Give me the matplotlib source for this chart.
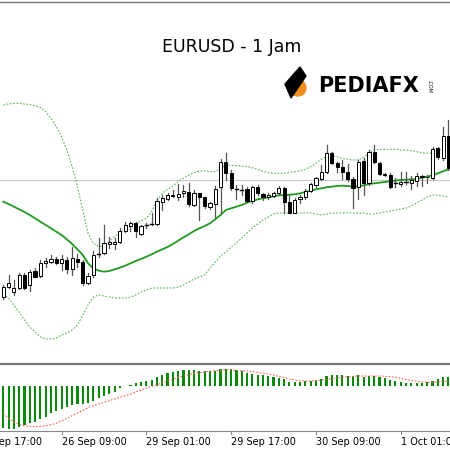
import matplotlib
matplotlib.use("Agg")
import matplotlib.pyplot as plt
from matplotlib.patches import Rectangle, Circle, Polygon
import matplotlib.transforms as mtransforms

# prices in screen-like units (larger = lower price), axis inverted
opens = [590,560,575,565,525,555,512,528,490,487,478,490,480,508,478,485,548,525,462,460,432,432,425,392,378,368,402,375,372,372,305,298,285,290,278,275,315,280,292,320,312,262,
         185,218,268,270,268,302,262,282,292,288,278,265,305,338,298,292,272,255,238,215,160,190,200,215,238,262,182,250,155,188,222,225,248,252,245,248,242,228,230,235,145,175,108]
closes = [560,550,565,525,565,515,530,488,483,478,490,478,508,475,485,550,528,465,462,430,425,425,393,375,370,393,378,375,372,303,295,285,288,282,272,312,278,292,318,310,268,185,
          220,265,268,270,302,262,278,290,285,280,265,305,338,300,292,272,252,235,215,160,190,200,215,238,265,185,250,155,185,222,225,262,248,245,245,240,228,232,232,148,172,108,205]
highs = [555,525,540,520,520,510,505,480,475,465,470,465,470,442,462,480,520,452,415,375,410,415,385,365,365,365,375,368,340,295,285,280,270,252,255,250,270,278,290,305,258,178,
         160,210,255,255,262,258,255,280,280,275,258,260,285,295,285,268,248,230,195,135,155,185,180,192,230,180,175,150,135,185,218,220,235,215,215,228,220,225,225,142,140,80,60]
lows = [598,565,585,567,568,572,532,530,500,490,492,510,520,525,500,555,552,530,470,462,445,448,430,395,392,410,405,385,375,375,330,300,290,300,290,318,318,360,325,328,350,340,
        240,270,298,285,305,308,285,300,298,292,282,340,340,340,310,298,275,260,240,218,192,215,238,242,325,298,285,255,190,225,228,265,262,258,252,268,258,258,248,238,178,180,210]
ma = [305,312,320,328,336,345,355,365,375,385,395,405,418,432,448,465,490,505,512,515,513,508,503,497,490,483,477,470,463,455,448,441,432,422,412,403,393,385,378,370,358,345,
      330,325,320,315,308,303,298,295,292,289,286,285,284,283,280,276,272,268,265,262,260,258,257,258,260,259,256,252,250,248,246,244,242,240,239,238,237,233,230,226,220,214,208]
upper = [15,12,10,10,12,14,18,22,35,55,80,110,150,200,260,330,400,430,440,438,425,410,400,385,375,370,362,355,335,300,280,268,258,245,235,225,218,213,212,215,215,205,
         195,196,197,198,200,203,208,214,218,220,220,220,218,215,212,208,200,190,178,170,168,170,175,178,180,180,172,160,150,148,148,148,148,150,150,152,155,158,160,158,152,145,130]
lower = [582,594,615,636,660,681,696,711,717,717,714,705,699,690,675,645,615,591,585,588,591,594,594,594,591,585,576,570,564,564,564,564,564,561,555,546,537,531,525,504,486,468,
         456,441,429,414,399,384,372,360,351,342,339,339,339,339,339,339,339,342,345,342,339,339,339,339,339,339,339,342,342,339,336,333,330,327,324,318,309,300,291,285,285,288,291]
macd = [-127,-130,-130,-122,-117,-112,-107,-100,-92,-82,-75,-70,-62,-57,-54,-54,-52,-44,-37,-30,-24,-17,-7,0,3,8,12,15,18,26,33,38,42,46,48,48,48,46,45,44,44,51,
        52,50,48,45,40,36,34,32,30,26,24,20,13,13,13,15,16,18,22,30,34,34,32,30,30,32,28,30,30,28,23,18,16,13,10,8,8,10,12,16,20,26,28]
signal = [-82,-97,-107,-115,-119,-121,-122,-121,-119,-116,-112,-105,-97,-89,-81,-73,-65,-59,-54,-49,-44,-39,-34,-29,-24,-18,-12,-6,-1,4,9,14,20,26,30,34,38,40,42,44,46,47,
          48,48,47,46,45,43,41,39,36,33,29,25,21,18,16,15,15,16,18,20,22,24,26,28,29,30,30,30,30,30,29,28,26,23,20,17,14,12,11,11,12,14,15]
tick_pos = [-5, 11, 27, 43, 59, 75]
tick_labels = ["25 Sep 17:00", "26 Sep 09:00", "29 Sep 01:00", "29 Sep 17:00", "30 Sep 09:00", "1 Oct 01:00"]

W, H = 450, 450
fig = plt.figure(figsize=(4.5, 4.5), dpi=100)
xlim = (-0.62, 84.3)

ax = fig.add_axes([0, 87/H, 1, 362/H])
ax.set_xlim(*xlim)
ax.set_ylim(789, -297)
ax.axis("off")
ax.axhline(240, color="#c8c8c8", lw=0.8)
idx = list(range(len(opens)))
ax.plot(idx, upper, color="#2ca02c", ls=(0, (1.5, 1.5)), lw=0.8, alpha=0.8)
ax.plot(idx, lower, color="#2ca02c", ls=(0, (1.5, 1.5)), lw=0.8, alpha=0.8)
ax.plot(idx, ma, color="#1f9a1f", lw=1.3)
bw = 0.6
for i in idx:
    o, c, h, l = opens[i], closes[i], highs[i], lows[i]
    ax.plot([i, i], [h, l], color="#555555", lw=0.9, zorder=3)
    if o == c:
        ax.plot([i - bw/2, i + bw/2], [o, o], color="black", lw=1, zorder=4)
    else:
        bull = c < o
        ax.add_patch(Rectangle((i - bw/2, min(o, c)), bw, abs(o - c),
                               facecolor="white" if bull else "black",
                               edgecolor="black", lw=0.7, zorder=4))

ax2 = fig.add_axes([0, 19/H, 1, 67/H])
ax2.bar(idx, macd, width=0.4, color="#0a8a0a")
ax2.plot(idx, signal, color="#ff5a5a", ls=(0, (1.5, 1.5)), lw=0.8)
for s in ["left", "right", "top"]:
    ax2.spines[s].set_visible(False)
ax2.spines["bottom"].set_color("#888888")
ax2.set_yticks([])
ax2.set_xticks([])
ax2.set_xlim(*xlim)
ax2.set_ylim(-135, 66)
trans = mtransforms.blended_transform_factory(ax2.transData, ax2.transAxes)
for p, lab in zip(tick_pos, tick_labels):
    ax2.plot([p, p], [0, -0.045], color="#888888", lw=0.8, transform=trans, clip_on=False)
    ax2.text(p, -0.09, lab, transform=trans, ha="left", va="top", fontsize=7, clip_on=False)

# frame lines
fig.add_artist(plt.Line2D([0, 1], [1 - 1.5/H, 1 - 1.5/H], color="#777777", lw=1))
fig.add_artist(plt.Line2D([0, 1], [1 - 363.5/H, 1 - 363.5/H], color="#777777", lw=1.6))

fig.text(232/W, 1 - 47/H, "EURUSD - 1 Jam", ha="center", va="center", fontsize=12.5)
# logo
fig.patches.append(Circle((298/W, 1 - 88/H), 8/W, transform=fig.transFigure, color="#f28c1e"))
fig.patches.append(Polygon([(285/W, 1-84/H), (300/W, 1-67/H), (306/W, 1-76/H), (291/W, 1-98/H)],
                           closed=True, transform=fig.transFigure, color="black"))
fig.text(318/W, 1 - 86/H, "PEDIAFX", ha="left", va="center", fontsize=15, fontweight="bold")
fig.text(429/W, 1 - 86/H, ".COM", ha="center", va="center", fontsize=3.5, rotation=-90)

fig.savefig("out.png", dpi=100)
